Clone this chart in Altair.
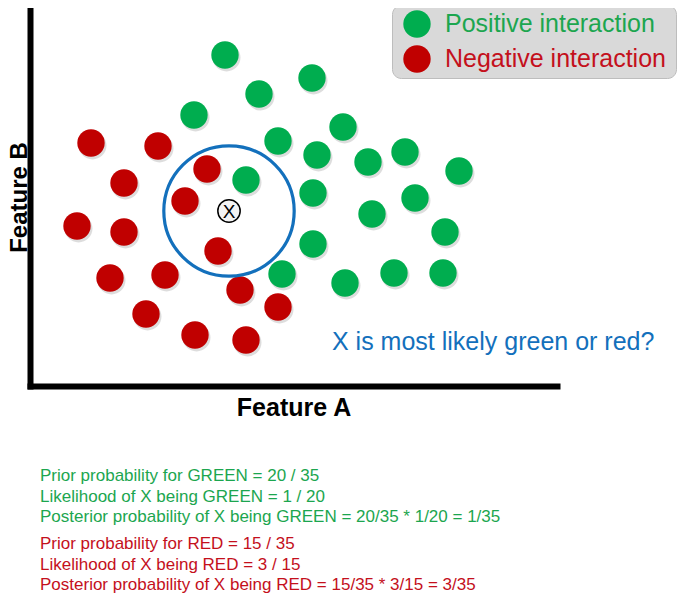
import altair as alt
import pandas as pd

# ---- data (feature units, origin at the axes corner) ----
green_a = [195, 229, 282, 164, 248, 313, 287, 338, 375, 429, 216, 283, 342, 385, 415, 283, 252, 315, 364, 413]
green_b = [331, 292, 308, 271, 245, 259, 231, 224, 234, 215, 206, 193, 172, 188, 154, 142, 112, 103, 113, 113]
red_a = [61, 128, 94, 177, 155, 47, 94, 188, 80, 135, 210, 248, 116, 165, 216]
red_b = [243, 240, 203, 217, 185, 160, 154, 135, 108, 111, 96, 79, 72, 51, 46]
groups = ["Positive interaction", "Negative interaction"]
group_colors = ["#00AD4F", "#C00000"]

query_a = [199]
query_b = [175]
query_label = ["X"]

question_text = ["X is most likely green or red?"]
question_a = [302]
question_b = [36]

green_lines = [
    "Prior probability for GREEN = 20 / 35",
    "Likelihood of X being GREEN = 1 / 20",
    "Posterior probability of X being GREEN = 20/35 * 1/20 = 1/35",
]
green_lines_b = [-95, -115.5, -136]
red_lines = [
    "Prior probability for RED = 15 / 35",
    "Likelihood of X being RED = 3 / 15",
    "Posterior probability of X being RED = 15/35 * 3/15 = 3/35",
]
red_lines_b = [-163, -183.5, -204]
lines_a = 10

# ---- tables ----
dots = pd.DataFrame({
    "a": green_a + red_a,
    "b": green_b + red_b,
    "group": [groups[0]] * len(green_a) + [groups[1]] * len(red_a),
})
query = pd.DataFrame({"a": query_a, "b": query_b, "label": query_label})
question = pd.DataFrame({"a": question_a, "b": question_b, "label": question_text})
gtext = pd.DataFrame({"a": [lines_a] * 3, "b": green_lines_b, "label": green_lines})
rtext = pd.DataFrame({"a": [lines_a] * 3, "b": red_lines_b, "label": red_lines})

FONT = "Liberation Sans"

xscale = alt.Scale(domain=[0, 527], nice=False, zero=False)
yscale = alt.Scale(domain=[0, 378], nice=False, zero=False)

xaxis = alt.Axis(title="Feature A", ticks=False, labels=False, grid=False,
                 domainColor="black", domainWidth=6, domainCap="square",
                 titleFont=FONT, titleFontSize=25, titleFontWeight="bold",
                 titleColor="black", titleBaseline="alphabetic", titlePadding=29)
yaxis = alt.Axis(title="Feature B", ticks=False, labels=False, grid=False,
                 domainColor="black", domainWidth=6, domainCap="square",
                 titleFont=FONT, titleFontSize=24, titleFontWeight="bold",
                 titleColor="black", titleBaseline="alphabetic", titlePadding=4)


def X():
    return alt.X("a:Q", scale=xscale, axis=xaxis, title="Feature A")


def Y():
    return alt.Y("b:Q", scale=yscale, axis=yaxis, title="Feature B")


shadow = alt.Chart(dots).mark_circle(size=780, color="#777777", opacity=0.25,
                                     xOffset=1.5, yOffset=2.5).encode(x=X(), y=Y())

points = alt.Chart(dots).mark_circle(size=750, opacity=1).encode(
    x=X(), y=Y(),
    color=alt.Color("group:N",
                    scale=alt.Scale(domain=groups, range=group_colors),
                    legend=alt.Legend(
                        title="\u00a0", titleOrient="right", titleFontSize=10,
                        titlePadding=5, titleColor="#d9d9d9",
                        orient="none", legendX=362, legendY=-3,
                        fillColor="#d9d9d9", strokeColor="#bdbdbd", cornerRadius=9,
                        padding=5, symbolType="circle", symbolSize=750,
                        symbolStrokeWidth=0, symbolOpacity=1, symbolOffset=6,
                        labelFont=FONT, labelFontSize=25, labelOffset=14,
                        labelLimit=400, rowPadding=7,
                        labelColor={"expr": "datum.value == 'Positive interaction' ? '#1CA64F' : '#C4101C'"},
                    )),
)

ring = alt.Chart(query).mark_point(shape="circle", filled=False, size=17000,
                                   strokeWidth=3.2, color="#1370BC", opacity=1).encode(x=X(), y=Y())

qdot = alt.Chart(query).mark_point(shape="circle", filled=True, fill="#f3f3f3",
                                   stroke="black", strokeWidth=1.5, size=500,
                                   opacity=1).encode(x=X(), y=Y())
qtext = alt.Chart(query).mark_text(font=FONT, fontSize=19, color="black",
                                   align="center", baseline="middle", dy=1).encode(
    x=X(), y=Y(), text="label:N")

qq = alt.Chart(question).mark_text(font=FONT, fontSize=25, color="#1370BC",
                                   align="left", baseline="alphabetic").encode(
    x=X(), y=Y(), text="label:N")

gl = alt.Chart(gtext).mark_text(font=FONT, fontSize=17, color="#1CA64F",
                                align="left", baseline="alphabetic").encode(
    x=X(), y=Y(), text="label:N")
rl = alt.Chart(rtext).mark_text(font=FONT, fontSize=17, color="#C4101C",
                                align="left", baseline="alphabetic").encode(
    x=X(), y=Y(), text="label:N")

chart = alt.layer(shadow, points, ring, qdot, qtext, qq, gl, rl).properties(
    width=527, height=378,
    autosize=alt.AutoSizeParams(type="none"),
    padding={"left": 22, "top": 0, "right": 124, "bottom": 207},
    background="white",
).configure_view(stroke=None)

chart.save("out.html", embed_options={"renderer": "svg", "actions": False})
